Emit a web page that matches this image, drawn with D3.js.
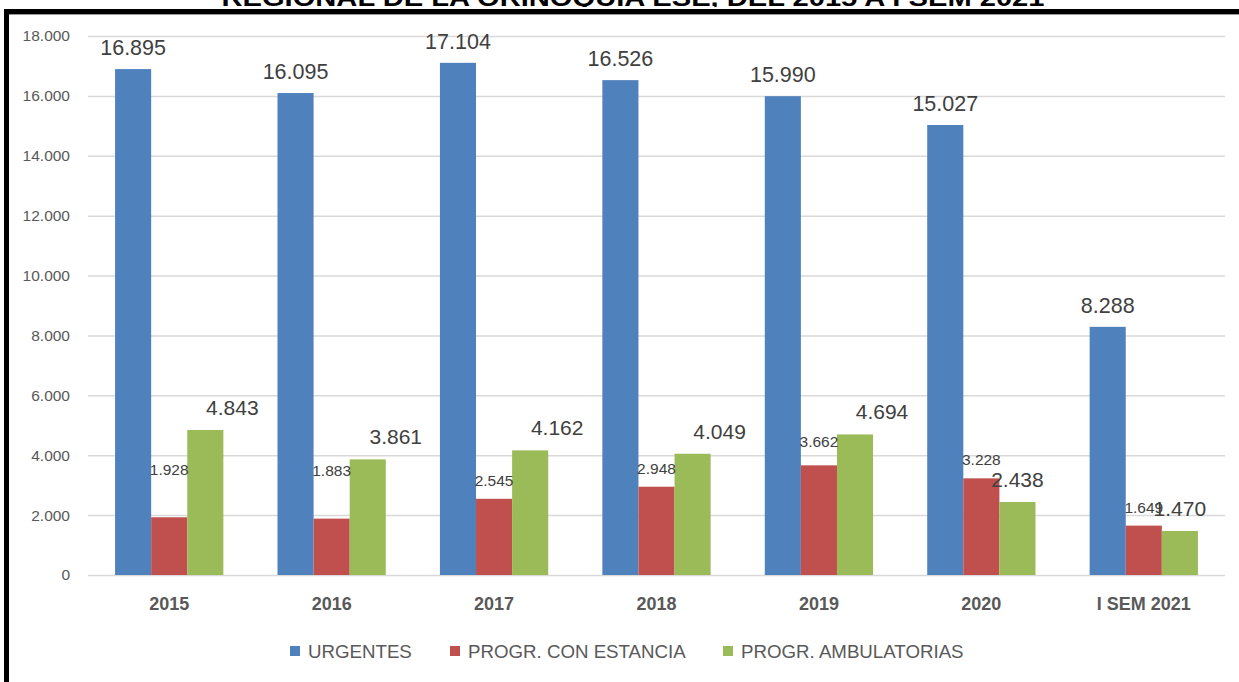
<!DOCTYPE html>
<html>
<head>
<meta charset="utf-8">
<script src="https://cdn.jsdelivr.net/npm/d3@7"></script>
<style>
  body { margin: 0; background: #fff; }
  svg { display: block; font-family: "Liberation Sans", Arial, sans-serif; }
</style>
</head>
<body>
<svg id="chart" width="1239" height="682"></svg>
<script>
// data
var categories = ["2015", "2016", "2017", "2018", "2019", "2020", "I SEM 2021"];
var seriesNames = ["URGENTES", "PROGR. CON ESTANCIA", "PROGR. AMBULATORIAS"];
var urgentes = [16895, 16095, 17104, 16526, 15990, 15027, 8288];
var conEstancia = [1928, 1883, 2545, 2948, 3662, 3228, 1649];
var ambulatorias = [4843, 3861, 4162, 4049, 4694, 2438, 1470];
var yTicks = [0, 2000, 4000, 6000, 8000, 10000, 12000, 14000, 16000, 18000];
var titleText = "REGIONAL DE LA ORINOQUIA ESE, DEL 2015 A I SEM 2021";

var colors = ["#4F81BD", "#C0504D", "#9BBB59"];

var svg = d3.select("#chart");
var margin = {left: 88, right: 1225, top: 36, bottom: 575};

var locale = d3.formatLocale({decimal: ",", thousands: ".", grouping: [3], currency: ["", ""]});
var fmt = locale.format(",d");

var x = d3.scaleBand().domain(categories).range([margin.left, margin.right]);
var xSub = d3.scaleBand().domain([0, 1, 2]).range([0, x.bandwidth()]).paddingOuter(0.75);
var y = d3.scaleLinear().domain([0, 18000]).range([margin.bottom, margin.top]);

// frame + clipped title (only its lower edge shows, as in the source)
svg.append("text")
  .attr("x", 633).attr("y", 6)
  .attr("text-anchor", "middle")
  .attr("font-size", 24).attr("font-weight", "bold")
  .attr("textLength", 823).attr("lengthAdjust", "spacingAndGlyphs")
  .attr("fill", "#000")
  .text(titleText);
svg.append("rect").attr("x", 0).attr("y", 7).attr("width", 1239).attr("height", 682).attr("fill", "#fff");
svg.append("rect").attr("x", 4).attr("y", 9).attr("width", 1235).attr("height", 5).attr("fill", "#000");
svg.append("rect").attr("x", 4).attr("y", 14).attr("width", 1235).attr("height", 1).attr("fill", "#999");
svg.append("rect").attr("x", 4).attr("y", 9).attr("width", 5).attr("height", 673).attr("fill", "#000");

// y axis with gridlines
var yAxis = svg.append("g")
  .attr("transform", "translate(" + margin.left + ",0)")
  .call(d3.axisLeft(y).tickValues(yTicks).tickFormat(fmt)
    .tickSize(-(margin.right - margin.left)).tickPadding(18));
yAxis.select(".domain").remove();
yAxis.selectAll("line").attr("stroke", "#d9d9d9").attr("stroke-width", 1.5);
yAxis.selectAll("text").attr("font-size", 15.5).attr("fill", "#595959")
  .attr("font-family", "Liberation Sans, Arial, sans-serif");

// x axis
var xAxis = svg.append("g")
  .attr("transform", "translate(0," + margin.bottom + ")")
  .call(d3.axisBottom(x).tickSize(0).tickPadding(22));
xAxis.select(".domain").remove();
xAxis.selectAll("text").attr("font-size", 18).attr("font-weight", "bold").attr("fill", "#595959")
  .attr("font-family", "Liberation Sans, Arial, sans-serif");

var allSeries = [urgentes, conEstancia, ambulatorias];
var rows = [];
categories.forEach(function(c, i) {
  allSeries.forEach(function(s, k) {
    rows.push({cat: c, k: k, value: s[i]});
  });
});

svg.append("g").selectAll("rect")
  .data(rows)
  .enter()
  .append("rect")
  .attr("x", function(d) { return x(d.cat) + xSub(d.k); })
  .attr("y", function(d) { return y(d.value); })
  .attr("width", xSub.bandwidth())
  .attr("height", function(d) { return y(0) - y(d.value); })
  .attr("fill", function(d) { return colors[d.k]; });

// label placement tweaks as in the original (manual nudges)
var redLift = {"2015": 29, "2016": 30, "2019": 5};
var greenShift = {"2015": 27, "2016": 28, "2017": 27, "2018": 27, "2019": 27};
var labelSize = [21.5, 15.5, 21];
var labelGap = [14, 13, 15];

svg.append("g").selectAll("text")
  .data(rows)
  .enter()
  .append("text")
  .attr("text-anchor", "middle")
  .attr("x", function(d) {
    var cx = x(d.cat) + xSub(d.k) + xSub.bandwidth() / 2;
    if (d.k == 2 && greenShift[d.cat]) cx += greenShift[d.cat];
    return cx;
  })
  .attr("y", function(d) {
    var yy = y(d.value) - labelGap[d.k];
    if (d.k == 1 && redLift[d.cat]) yy -= redLift[d.cat];
    return yy;
  })
  .attr("font-size", function(d) { return labelSize[d.k]; })
  .attr("fill", "#404040")
  .text(function(d) { return fmt(d.value); });

// legend
var legendX = [290, 450, 723];
var legend = svg.append("g").selectAll("g")
  .data(seriesNames)
  .enter()
  .append("g")
  .attr("transform", function(d, i) { return "translate(" + legendX[i] + ",646)"; });
legend.append("rect").attr("width", 10).attr("height", 10)
  .attr("fill", function(d, i) { return colors[i]; });
legend.append("text").attr("x", 18).attr("y", 11.5)
  .attr("font-size", 18.7).attr("fill", "#595959")
  .text(function(d) { return d; });
</script>
</body>
</html>
